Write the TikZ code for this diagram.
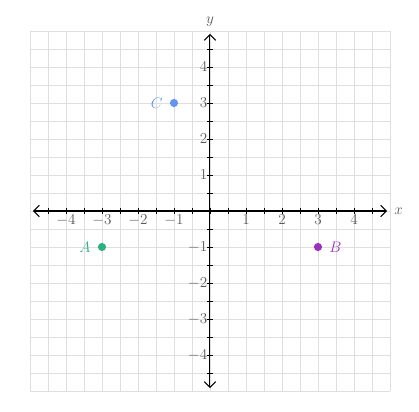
\documentclass[tikz,border=0pt]{standalone}
\usepackage{amsfonts, amssymb, amsmath}
\usetikzlibrary{arrows.meta}

\definecolor{ptgreen}{HTML}{2EB07F}
\definecolor{ptpurple}{HTML}{9933BB}
\definecolor{ptblue}{HTML}{6495ED}

\tikzset{
    axis/.style={thick, {Straight Barb[length=1.6mm,width=3.2mm]}-{Straight Barb[length=1.6mm,width=3.2mm]}},
    ticklabel/.style={text=gray!70!black, inner sep=1pt, font=\large},
    dot/.style={circle, inner sep=0pt, minimum size=6.5pt}
}

\begin{document}
\begin{tikzpicture}[scale=1]
    \useasboundingbox (-5.833, -5.556) rectangle (5.806, 5.861);

    % Background grid
    \draw[gray!25, step=0.5] (-5, -5) grid (5, 5);

    % Axes
    \coordinate (xmin) at (-4.92, 0);
    \coordinate (xmax) at (4.92, 0);
    \coordinate (ymin) at (0, -4.92);
    \coordinate (ymax) at (0, 4.92);
    \draw[axis] (xmin) -- (xmax) node[right=2pt, gray!70!black, font=\large] (xlab) {$x$};
    \draw[axis] (ymin) -- (ymax) node[above=2pt, gray!70!black, font=\large] (ylab) {$y$};

    % Ticks
    \foreach \t in {-4.5, -4, ..., 4.6} {
        \draw (\t, -0.08) -- (\t, 0.08);
        \draw (-0.08, \t) -- (0.08, \t);
    }

    % Tick labels
    \foreach \t in {-4, -3, -2, -1, 1, 2, 3, 4} {
        \node[ticklabel, below=2pt] (xt\t) at (\t, 0) {$\t$};
        \node[ticklabel, left=1pt] (yt\t) at (0, \t) {$\t$};
    }

    % Points
    \node[dot, fill=ptgreen] (A) at (-3, -1) {};
    \node[dot, fill=ptpurple] (B) at (3, -1) {};
    \node[dot, fill=ptblue] (C) at (-1, 3) {};

    \node[ptgreen, left=2pt, font=\large] (Alab) at (A.west) {$A$};
    \node[ptpurple, right=2pt, font=\large] (Blab) at (B.east) {$B$};
    \node[ptblue, left=2pt, font=\large] (Clab) at (C.west) {$C$};
\end{tikzpicture}
\end{document}
